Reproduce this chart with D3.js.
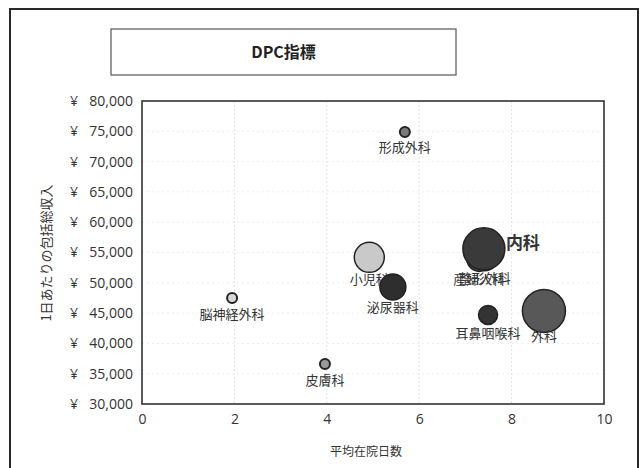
<!DOCTYPE html>
<html><head><meta charset="utf-8">
<script src="https://cdn.jsdelivr.net/npm/d3@7/dist/d3.min.js"></script>
<style>body{margin:0;background:#fff}svg{display:block}</style>
</head><body>
<svg id="chart" width="644" height="468"></svg>
<script>
// ---- data ----
const departments = ["整形外科","産婦人科","形成外科","脳神経外科","皮膚科","小児科","泌尿器科","内科","耳鼻咽喉科","外科"];
const avgStayDays = [7.42, 7.30, 5.69, 1.95, 3.96, 4.92, 5.43, 7.40, 7.49, 8.70];
const dailyRevenue = [54000, 53900, 74900, 47500, 36600, 54200, 49300, 55600, 44700, 45350];
const bubbleSize = [150, 150, 25, 25, 25, 225, 169, 441, 90, 462];
const fillShade = ["#444","#444","#7a7a7a","#d8d8d8","#9a9a9a","#c9c9c9","#2e2e2e","#3a3a3a","#333","#585858"];
const labelPlacement = ["below","below","below","below","below","below","below","right","below","below"];
const xTicks = [0,2,4,6,8,10];
const yTicks = [30000,35000,40000,45000,50000,55000,60000,65000,70000,75000,80000];
const titleText = "DPC指標";
const xTitle = "平均在院日数";
const yTitle = "1日あたりの包括総収入";

// ---- layout ----
const svg = d3.select("#chart");
const jp = "'Noto Sans CJK JP','Noto Sans',sans-serif";
const m = {left:142, right:604, top:101, bottom:404};

svg.append("rect").attr("x",0).attr("y",0).attr("width",644).attr("height",468).attr("fill","#fff");
// outer frame
svg.append("rect").attr("x",10).attr("y",9).attr("width",628).attr("height",470)
  .attr("fill","none").attr("stroke","#2a2a2a").attr("stroke-width",2);
// title box
svg.append("rect").attr("x",111).attr("y",29).attr("width",345).attr("height",46)
  .attr("fill","#fff").attr("stroke","#555").attr("stroke-width",1.2);
svg.append("text").attr("x",283.5).attr("y",58).attr("text-anchor","middle")
  .attr("font-family",jp).attr("font-weight","bold").attr("font-size",16).attr("fill","#222").text(titleText);

const x = d3.scaleLinear().domain([0,10]).range([m.left,m.right]);
const y = d3.scaleLinear().domain([30000,80000]).range([m.bottom,m.top]);
const r = d3.scaleSqrt().domain([0,462]).range([0,21.5]);

// gridlines
svg.append("g").selectAll("line.v").data(xTicks).join("line")
  .attr("x1",d=>x(d)).attr("x2",d=>x(d)).attr("y1",m.top).attr("y2",m.bottom)
  .attr("stroke","#e4e4e4").attr("stroke-width",1).attr("stroke-dasharray","2,2");
svg.append("g").selectAll("line.h").data(yTicks).join("line")
  .attr("x1",m.left).attr("x2",m.right).attr("y1",d=>y(d)).attr("y2",d=>y(d))
  .attr("stroke","#efefef").attr("stroke-width",1).attr("stroke-dasharray","2,3");

// y axis (accounting style: yen sign left-aligned, number right-aligned)
const yAxis = svg.append("g").attr("transform",`translate(${m.left},0)`)
  .call(d3.axisLeft(y).tickValues(yTicks).tickFormat(d3.format(",")).tickSize(0).tickPadding(9));
yAxis.select(".domain").remove();
yAxis.selectAll("text").attr("font-family","'Open Sans',sans-serif").attr("font-size",14).attr("fill","#333");
yAxis.selectAll(".tick").append("text")
  .attr("x",-72).attr("dy","0.32em").attr("text-anchor","start")
  .attr("font-family","'Open Sans',sans-serif").attr("font-size",14).attr("fill","#333").text("¥");

const xAxis = svg.append("g").attr("transform",`translate(0,${m.bottom})`)
  .call(d3.axisBottom(x).tickValues(xTicks).tickFormat(d3.format("d")).tickSize(0).tickPadding(10));
xAxis.select(".domain").remove();
xAxis.selectAll("text").attr("font-family","'Open Sans',sans-serif").attr("font-size",14).attr("fill","#333");

// plot border
svg.append("rect").attr("x",m.left).attr("y",m.top).attr("width",m.right-m.left).attr("height",m.bottom-m.top)
  .attr("fill","none").attr("stroke","#333").attr("stroke-width",1.6);

// axis titles
svg.append("text").attr("x",366).attr("y",456).attr("text-anchor","middle")
  .attr("font-family",jp).attr("font-size",12).attr("fill","#333").text(xTitle);
svg.append("text").attr("transform","translate(51,253) rotate(-90)").attr("text-anchor","middle")
  .attr("font-family",jp).attr("font-size",13).attr("fill","#333").text(yTitle);

// bubbles + labels, drawn point by point (later bubbles may cover earlier labels)
const data = departments.map((d,i)=>({name:d, x:avgStayDays[i], y:dailyRevenue[i], s:bubbleSize[i], fill:fillShade[i], place:labelPlacement[i]}));
const pts = svg.append("g").selectAll("g").data(data).join("g");
pts.append("circle")
  .attr("cx",d=>x(d.x)).attr("cy",d=>y(d.y)).attr("r",d=>r(d.s))
  .attr("fill",d=>d.fill).attr("stroke","#222").attr("stroke-width",d=>r(d.s)<8?2:1.5);
pts.append("text")
  .attr("x",d=>d.place==="right"? x(d.x)+r(d.s)+1 : x(d.x))
  .attr("y",d=>d.place==="right"? y(d.y)-6 : y(d.y)+r(d.s)*0.6+13)
  .attr("dy","0.35em")
  .attr("text-anchor",d=>d.place==="right"?"start":"middle")
  .attr("font-family",jp)
  .attr("font-size",d=>d.place==="right"?17:13)
  .attr("font-weight",d=>d.place==="right"?"bold":"normal")
  .attr("fill","#333")
  .text(d=>d.name);
</script>
</body></html>
